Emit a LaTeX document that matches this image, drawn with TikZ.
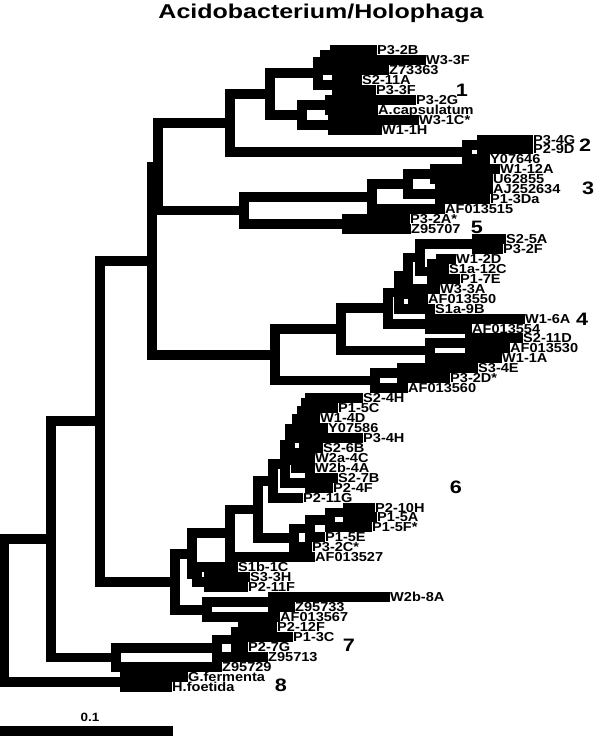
\documentclass[tikz,border=0pt]{standalone}
\usepackage{fontspec}
\setmainfont{Liberation Sans}
\newfontfamily\lblfont{Liberation Sans}[FakeStretch=1.12]
\newfontfamily\numfont{Liberation Sans}[FakeStretch=1.2]
\newfontfamily\ttlfont{Liberation Sans}[FakeStretch=1.25]
\tikzset{
    leaf/.style={
        anchor=west,
        inner sep=0pt,
        text height=9.3pt,
        text depth=0pt,
        font=\lblfont\bfseries\fontsize{13}{13}\selectfont
    },
    clus/.style={
        inner sep=0pt,
        font=\numfont\bfseries\fontsize{18}{18}\selectfont
    },
    branch/.style={
        every edge/.style={
            draw,
            line width=9.5pt,
            line join=miter,
            to path={|- (\tikztotarget)}
        }
    }
}
\begin{document}
\begin{tikzpicture}[x=1pt, y=-1pt]
    \useasboundingbox (0,0) rectangle (600,736);

    % Titulo
    \node[font=\ttlfont\bfseries\fontsize{20}{20}\selectfont] (ttl) at (321,13) {Acidobacterium/Holophaga};

    % Hojas
    \node[leaf] (l1)  at (377,50)  {P3-2B};
    \node[leaf] (l2)  at (426,60)  {W3-3F};
    \node[leaf] (l3)  at (389,70)  {Z73363};
    \node[leaf] (l4)  at (362,80)  {S2-11A};
    \node[leaf] (l5)  at (376,90)  {P3-3F};
    \node[leaf] (l6)  at (416,100) {P3-2G};
    \node[leaf] (l7)  at (378,110) {A.capsulatum};
    \node[leaf] (l8)  at (419,120) {W3-1C*};
    \node[leaf] (l9)  at (382,130) {W1-1H};
    \node[leaf] (l10) at (533,140) {P3-4G};
    \node[leaf] (l11) at (533,149) {P2-9D};
    \node[leaf] (l12) at (490,159) {Y07646};
    \node[leaf] (l13) at (500,169) {W1-12A};
    \node[leaf] (l14) at (493,179) {U62855};
    \node[leaf] (l15) at (493,189) {AJ252634};
    \node[leaf] (l16) at (490,199) {P1-3Da};
    \node[leaf] (l17) at (445,209) {AF013515};
    \node[leaf] (l18) at (410,219) {P3-2A*};
    \node[leaf] (l19) at (411,229) {Z95707};
    \node[leaf] (l20) at (506,239) {S2-5A};
    \node[leaf] (l21) at (503,249) {P3-2F};
    \node[leaf] (l22) at (456,259) {W1-2D};
    \node[leaf] (l23) at (449,269) {S1a-12C};
    \node[leaf] (l24) at (460,279) {P1-7E};
    \node[leaf] (l25) at (440,289) {W3-3A};
    \node[leaf] (l26) at (428,299) {AF013550};
    \node[leaf] (l27) at (435,309) {S1a-9B};
    \node[leaf] (l28) at (525,319) {W1-6A};
    \node[leaf] (l29) at (472,329) {AF013554};
    \node[leaf] (l30) at (523,338) {S2-11D};
    \node[leaf] (l31) at (510,348) {AF013530};
    \node[leaf] (l32) at (502,358) {W1-1A};
    \node[leaf] (l33) at (478,368) {S3-4E};
    \node[leaf] (l34) at (450,378) {P3-2D*};
    \node[leaf] (l35) at (408,388) {AF013560};
    \node[leaf] (l36) at (363,398) {S2-4H};
    \node[leaf] (l37) at (338,408) {P1-5C};
    \node[leaf] (l38) at (320,418) {W1-4D};
    \node[leaf] (l39) at (328,428) {Y07586};
    \node[leaf] (l40) at (363,438) {P3-4H};
    \node[leaf] (l41) at (323,448) {S2-6B};
    \node[leaf] (l42) at (315,458) {W2a-4C};
    \node[leaf] (l43) at (315,468) {W2b-4A};
    \node[leaf] (l44) at (338,478) {S2-7B};
    \node[leaf] (l45) at (333,488) {P2-4F};
    \node[leaf] (l46) at (303,498) {P2-11G};
    \node[leaf] (l47) at (375,508) {P2-10H};
    \node[leaf] (l48) at (377,517) {P1-5A};
    \node[leaf] (l49) at (372,527) {P1-5F*};
    \node[leaf] (l50) at (325,537) {P1-5E};
    \node[leaf] (l51) at (312,547) {P3-2C*};
    \node[leaf] (l52) at (315,557) {AF013527};
    \node[leaf] (l53) at (238,567) {S1b-1C};
    \node[leaf] (l54) at (250,577) {S3-3H};
    \node[leaf] (l55) at (248,587) {P2-11F};
    \node[leaf] (l56) at (390,597) {W2b-8A};
    \node[leaf] (l57) at (295,607) {Z95733};
    \node[leaf] (l58) at (280,617) {AF013567};
    \node[leaf] (l59) at (277,627) {P2-12F};
    \node[leaf] (l60) at (293,637) {P1-3C};
    \node[leaf] (l61) at (248,647) {P2-7G};
    \node[leaf] (l62) at (268,657) {Z95713};
    \node[leaf] (l63) at (222,667) {Z95729};
    \node[leaf] (l64) at (188,677) {G.fermenta};
    \node[leaf] (l65) at (172,687) {H.foetida};

    % Grupos
    \node[clus] (k1) at (462,90)  {1};
    \node[clus] (k2) at (585,145) {2};
    \node[clus] (k3) at (588,188) {3};
    \node[clus] (k5) at (477,227) {5};
    \node[clus] (k4) at (582,319) {4};
    \node[clus] (k6) at (456,487) {6};
    \node[clus] (k7) at (349,645) {7};
    \node[clus] (k8) at (281,685) {8};

    % Nodos internos
    \coordinate (a12)  at (335,55);
    \coordinate (a13)  at (325,62);
    \coordinate (a45)  at (337,85);
    \coordinate (a15)  at (318,73);
    \coordinate (a67)  at (330,105);
    \coordinate (a89)  at (333,125);
    \coordinate (a69)  at (302,115);
    \coordinate (c1)   at (270,94);
    \coordinate (a1011) at (482,145);
    \coordinate (c2)   at (467,152);
    \coordinate (c12)  at (230,123);
    \coordinate (a1314) at (435,174);
    \coordinate (a1516) at (440,194);
    \coordinate (a1316) at (408,184);
    \coordinate (c3)   at (372,197);
    \coordinate (c5)   at (347,224);
    \coordinate (c35)  at (244,210.5);
    \coordinate (a2021) at (477,244);
    \coordinate (a2223) at (441,264);
    \coordinate (a2224) at (432,271.5);
    \coordinate (a2024) at (420,257.5);
    \coordinate (a2526) at (413,294);
    \coordinate (a2026) at (408,276);
    \coordinate (a2027) at (399,292.5);
    \coordinate (a2829) at (430,324);
    \coordinate (a2029) at (388,308);
    \coordinate (a3031) at (470,343);
    \coordinate (a3032) at (430,350.5);
    \coordinate (a2032) at (341,329);
    \coordinate (a3334) at (402,373);
    \coordinate (a3335) at (375,380.5);
    \coordinate (c4)   at (275,355);
    \coordinate (b3637) at (310,403);
    \coordinate (b3638) at (306,410.5);
    \coordinate (b3639) at (302,419);
    \coordinate (b3640) at (297,428.5);
    \coordinate (b4142) at (304,453);
    \coordinate (b4143) at (296,460.5);
    \coordinate (b3643) at (290,444.5);
    \coordinate (b4445) at (310,483);
    \coordinate (b3645) at (285,464);
    \coordinate (b3646) at (273,481);
    \coordinate (b4748) at (348,512.5);
    \coordinate (b4749) at (330,520);
    \coordinate (b4750) at (310,528.5);
    \coordinate (b4751) at (294,538);
    \coordinate (c6a)  at (258,509.5);
    \coordinate (c6)   at (230,533);
    \coordinate (b5455) at (209,582);
    \coordinate (b5355) at (197,574.5);
    \coordinate (d6)   at (192,554);
    \coordinate (b5657) at (273,602);
    \coordinate (c9)   at (207,610);
    \coordinate (e6)   at (175,582);
    \coordinate (h5960) at (243,632);
    \coordinate (h5961) at (236,639.5);
    \coordinate (h5962) at (217,648);
    \coordinate (c7)   at (116,657.5);
    \coordinate (c8)   at (125,682);
    \coordinate (u1)   at (158,167);
    \coordinate (v1)   at (152,261);
    \coordinate (f1)   at (100,421);
    \coordinate (g1)   at (51,539);
    \coordinate (rt)   at (4,610);

    % Ramas
    \path[branch]
        % Grupo 1
        (a12) edge (l1) edge (l2)
        (a13) edge (a12) edge (l3)
        (a45) edge (l4) edge (l5)
        (a15) edge (a13) edge (a45)
        (a67) edge (l6) edge (l7)
        (a89) edge (l8) edge (l9)
        (a69) edge (a67) edge (a89)
        (c1) edge (a15) edge (a69)
        % Grupo 2
        (a1011) edge (l10) edge (l11)
        (c2) edge (a1011) edge (l12)
        (c12) edge (c1) edge (c2)
        % Grupos 3 y 5
        (a1314) edge (l13) edge (l14)
        (a1516) edge (l15) edge (l16)
        (a1316) edge (a1314) edge (a1516)
        (c3) edge (a1316) edge (l17)
        (c5) edge (l18) edge (l19)
        (c35) edge (c3) edge (c5)
        % Grupo 4
        (a2021) edge (l20) edge (l21)
        (a2223) edge (l22) edge (l23)
        (a2224) edge (a2223) edge (l24)
        (a2024) edge (a2021) edge (a2224)
        (a2526) edge (l25) edge (l26)
        (a2026) edge (a2024) edge (a2526)
        (a2027) edge (a2026) edge (l27)
        (a2829) edge (l28) edge (l29)
        (a2029) edge (a2027) edge (a2829)
        (a3031) edge (l30) edge (l31)
        (a3032) edge (a3031) edge (l32)
        (a2032) edge (a2029) edge (a3032)
        (a3334) edge (l33) edge (l34)
        (a3335) edge (a3334) edge (l35)
        (c4) edge (a2032) edge (a3335)
        % Grupo 6
        (b3637) edge (l36) edge (l37)
        (b3638) edge (b3637) edge (l38)
        (b3639) edge (b3638) edge (l39)
        (b3640) edge (b3639) edge (l40)
        (b4142) edge (l41) edge (l42)
        (b4143) edge (b4142) edge (l43)
        (b3643) edge (b3640) edge (b4143)
        (b4445) edge (l44) edge (l45)
        (b3645) edge (b3643) edge (b4445)
        (b3646) edge (b3645) edge (l46)
        (b4748) edge (l47) edge (l48)
        (b4749) edge (b4748) edge (l49)
        (b4750) edge (b4749) edge (l50)
        (b4751) edge (b4750) edge (l51)
        (c6a) edge (b3646) edge (b4751)
        (c6) edge (c6a) edge (l52)
        (b5455) edge (l54) edge (l55)
        (b5355) edge (l53) edge (b5455)
        (d6) edge (c6) edge (b5355)
        (b5657) edge (l56) edge (l57)
        (c9) edge (b5657) edge (l58)
        (e6) edge (d6) edge (c9)
        % Grupo 7
        (h5960) edge (l59) edge (l60)
        (h5961) edge (h5960) edge (l61)
        (h5962) edge (h5961) edge (l62)
        (c7) edge (h5962) edge (l63)
        % Grupo 8
        (c8) edge (l64) edge (l65)
        % Tronco
        (u1) edge (c12) edge (c35)
        (v1) edge (u1) edge (c4)
        (f1) edge (v1) edge (e6)
        (g1) edge (f1) edge (c7)
        (rt) edge (g1) edge (c8);

    % Escala
    \coordinate (sbl) at (0,731);
    \coordinate (sbr) at (173,731);
    \draw[line width=9.5pt] (sbl) -- (sbr);
    \node[font=\lblfont\bfseries\fontsize{12}{12}\selectfont] (sbt) at (90,717) {0.1};

\end{tikzpicture}
\end{document}
